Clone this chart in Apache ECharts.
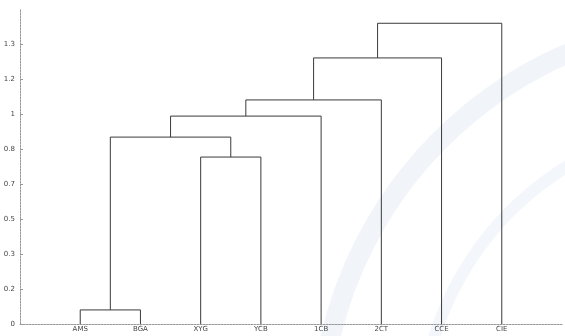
<!DOCTYPE html>
<html>
<head>
<meta charset="utf-8">
<script src="https://cdn.jsdelivr.net/npm/echarts@6/dist/echarts.min.js"></script>
<style>
  html, body { margin: 0; padding: 0; background: #fff; }
  #chart { width: 565px; height: 336px; }
</style>
</head>
<body>
<div id="chart"></div>
<script>
// Leaf labels, left to right along the bottom axis
const leaves = ['AMS', 'BGA', 'XYG', 'YCB', '1CB', '2CT', 'CCE', 'CIE'];

// Agglomeration steps: ids 0..7 are leaves, each merge creates id 8, 9, ...
const mergeLeft  = [0, 2, 8, 10, 11, 12, 13];
const mergeRight = [1, 3, 9, 4, 5, 6, 7];
const mergeHeight = [0.067, 0.795, 0.89, 0.99, 1.067, 1.267, 1.432];

// Vertical axis ticks
const yMin = 0, yMax = 1.5, yStep = 1 / 6;

// Position (in axis units) and height of every node in the tree
const nodeX = leaves.map((_, i) => i + 1);
const nodeH = leaves.map(() => 0);
mergeLeft.forEach((l, k) => {
  const r = mergeRight[k];
  nodeX.push((nodeX[l] + nodeX[r]) / 2);
  nodeH.push(mergeHeight[k]);
});

const links = mergeLeft.map((l, k) => [k]);

const chart = echarts.init(document.getElementById('chart'), null, { renderer: 'canvas' });

const labelColor = '#444';
const axisColor = '#999';

chart.setOption({
  animation: false,
  backgroundColor: '#fff',
  grid: { left: 20, right: 1.4, top: 9, bottom: 12, containLabel: false },
  graphic: [
    // faint circular stamp in the background
    {
      type: 'arc', z: -10, silent: true,
      shape: { cx: 730, cy: 430, r: 410, startAngle: Math.PI * 1.03, endAngle: Math.PI * 1.55 },
      style: { stroke: '#f1f5fa', lineWidth: 20, fill: null }
    },
    {
      type: 'arc', z: -10, silent: true,
      shape: { cx: 730, cy: 430, r: 310, startAngle: Math.PI * 1.05, endAngle: Math.PI * 1.5 },
      style: { stroke: '#f3f7fb', lineWidth: 12, fill: null }
    }
  ],
  xAxis: {
    type: 'value',
    min: 0,
    max: leaves.length + 1,
    interval: 1,
    splitLine: { show: false },
    axisTick: { show: false },
    axisLine: { show: true, lineStyle: { color: axisColor, width: 1, type: [2, 1] } },
    axisLabel: {
      show: true,
      fontSize: 7,
      color: labelColor,
      margin: 2,
      fontFamily: 'DejaVu Sans',
      formatter: v => {
        const i = Math.round(v) - 1;
        return (i >= 0 && i < leaves.length && Math.abs(v - i - 1) < 1e-6) ? leaves[i] : '';
      }
    }
  },
  yAxis: {
    type: 'value',
    min: yMin,
    max: yMax,
    interval: yStep,
    splitLine: { show: false },
    axisLine: { show: true, lineStyle: { color: axisColor, width: 1, type: [2, 1] } },
    axisTick: { show: true, inside: true, length: 3, lineStyle: { color: axisColor } },
    axisLabel: {
      fontSize: 7,
      color: labelColor,
      margin: 5,
      fontFamily: 'DejaVu Sans',
      showMaxLabel: false,
      formatter: v => {
        const k = v / yStep;
        if (Math.abs(k - Math.round(k)) > 1e-6) return '';
        return String(+v.toFixed(1));
      }
    }
  },
  series: [{
    type: 'custom',
    coordinateSystem: 'cartesian2d',
    data: links,
    encode: { x: -1, y: -1 },
    clip: false,
    renderItem: (params, api) => {
      const k = api.value(0);
      const l = mergeLeft[k], r = mergeRight[k], h = mergeHeight[k];
      const p1 = api.coord([nodeX[l], nodeH[l]]);
      const p2 = api.coord([nodeX[l], h]);
      const p3 = api.coord([nodeX[r], h]);
      const p4 = api.coord([nodeX[r], nodeH[r]]);
      return {
        type: 'polyline',
        shape: { points: [p1, p2, p3, p4] },
        style: { stroke: '#3a3a3a', lineWidth: 1, fill: null }
      };
    }
  }]
});
</script>
</body>
</html>
